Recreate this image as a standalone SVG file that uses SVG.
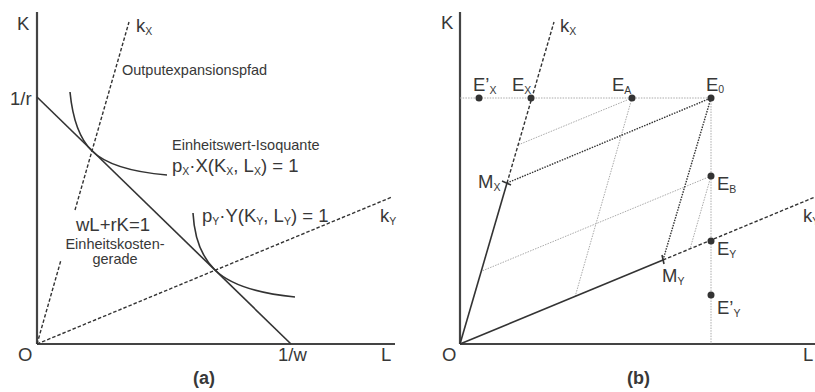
<svg xmlns="http://www.w3.org/2000/svg" width="815" height="392" viewBox="0 0 815 392">
<style>
text{font-family:"Liberation Sans",Arial,sans-serif;fill:#383838}
.lbl{font-size:18.5px}
.sm{font-size:14.5px}
.sub{font-size:10.5px}
.axis{stroke:#444;stroke-width:2.2;fill:none}
.solid{stroke:#333;stroke-width:1.6;fill:none}
.dash{stroke:#333;stroke-width:1.4;fill:none;stroke-dasharray:3.5 2}
.ddot{stroke:#333;stroke-width:1.4;fill:none;stroke-dasharray:1.5 1.2}
.gdot{stroke:#aaa;stroke-width:1;fill:none;stroke-dasharray:1.5 1.2}
.pt{fill:#333}
.cap{font-size:18px;font-weight:bold}
</style>
<rect width="815" height="392" fill="#fff"/>

<!-- Panel (a) -->
<g id="a-axes">
<line class="axis" x1="37" y1="12" x2="37" y2="344"/>
<line class="axis" x1="37" y1="344" x2="395" y2="344"/>
<text class="lbl" x="17" y="30">K</text>
<text class="lbl" x="18" y="361">O</text>
<text class="lbl" x="381" y="361">L</text>
<text class="lbl" x="10" y="105">1/r</text>
<text class="lbl" x="278" y="361">1/w</text>
<text class="cap" x="193" y="384">(a)</text>
</g>
<g id="a-connectors">
<line class="dash" x1="37" y1="344" x2="61" y2="260"/>
<line class="dash" x1="75" y1="210" x2="129" y2="22"/>
<line class="dash" x1="37" y1="344" x2="392" y2="197"/>
<line class="solid" x1="37" y1="97" x2="291" y2="344"/>
<path class="solid" d="M70,92 Q74,133.5 92,151 Q112,170.4 167,175"/>
<path class="solid" d="M193,213 Q195,250.6 215,270 Q237,291.4 295,297"/>
</g>
<g id="a-labels">
<text class="lbl" x="136" y="32">k<tspan class="sub" dy="3">X</tspan></text>
<text class="sm" x="122" y="75">Outputexpansionspfad</text>
<text class="sm" x="172" y="150">Einheitswert-Isoquante</text>
<text class="lbl" x="172" y="172">p<tspan class="sub" dy="3">X</tspan><tspan dy="-3">·X(K</tspan><tspan class="sub" dy="3">X</tspan><tspan dy="-3">, L</tspan><tspan class="sub" dy="3">X</tspan><tspan dy="-3">) = 1</tspan></text>
<text class="lbl" x="202" y="222">p<tspan class="sub" dy="3">Y</tspan><tspan dy="-3">·Y(K</tspan><tspan class="sub" dy="3">Y</tspan><tspan dy="-3">, L</tspan><tspan class="sub" dy="3">Y</tspan><tspan dy="-3">) = 1</tspan></text>
<text class="lbl" x="380" y="222">k<tspan class="sub" dy="3">Y</tspan></text>
<text class="lbl" x="76" y="231">wL+rK=1</text>
<text class="sm" x="115" y="249" text-anchor="middle">Einheitskosten-</text>
<text class="sm" x="115" y="264" text-anchor="middle">gerade</text>
</g>

<!-- Panel (b) -->
<g id="b-axes">
<line class="axis" x1="460" y1="12" x2="460" y2="344"/>
<line class="axis" x1="460" y1="344" x2="815" y2="344"/>
<text class="lbl" x="441" y="29">K</text>
<text class="lbl" x="442" y="361">O</text>
<text class="lbl" x="803" y="361">L</text>
<text class="cap" x="627" y="384">(b)</text>
</g>
<g id="b-connectors">
<line class="gdot" x1="460" y1="98" x2="711" y2="98"/>
<line class="gdot" x1="711" y1="98" x2="711" y2="344"/>
<line class="gdot" x1="632" y1="98" x2="518" y2="145"/>
<line class="gdot" x1="632" y1="98" x2="575" y2="297"/>
<line class="gdot" x1="711" y1="176" x2="482" y2="271"/>
<line class="gdot" x1="711" y1="176" x2="690" y2="249"/>
<line class="ddot" x1="507" y1="183" x2="711" y2="98"/>
<line class="ddot" x1="663" y1="260" x2="711" y2="98"/>
<line class="solid" x1="460" y1="344" x2="507" y2="183"/>
<line class="dash" x1="507" y1="183" x2="554" y2="22"/>
<line class="solid" x1="460" y1="344" x2="663" y2="260"/>
<line class="dash" x1="663" y1="260" x2="815" y2="197"/>
<line class="solid" x1="502" y1="181" x2="511" y2="185"/>
<line class="solid" x1="662" y1="255" x2="664" y2="264"/>
</g>
<g id="b-points">
<circle class="pt" cx="479" cy="98" r="3.5"/>
<circle class="pt" cx="531" cy="98" r="3.5"/>
<circle class="pt" cx="632" cy="98" r="3.5"/>
<circle class="pt" cx="711" cy="98" r="3.5"/>
<circle class="pt" cx="711" cy="176" r="3.5"/>
<circle class="pt" cx="711" cy="241" r="3.5"/>
<circle class="pt" cx="711" cy="295" r="3.5"/>
</g>
<g id="b-labels">
<text class="lbl" x="560" y="32">k<tspan class="sub" dy="3">X</tspan></text>
<text class="lbl" x="473" y="91">E’<tspan class="sub" dy="3">X</tspan></text>
<text class="lbl" x="512" y="91">E<tspan class="sub" dy="3">X</tspan></text>
<text class="lbl" x="612" y="91">E<tspan class="sub" dy="3">A</tspan></text>
<text class="lbl" x="706" y="91">E<tspan class="sub" dy="2">0</tspan></text>
<text class="lbl" x="478" y="188">M<tspan class="sub" dy="3">X</tspan></text>
<text class="lbl" x="717" y="190">E<tspan class="sub" dy="3">B</tspan></text>
<text class="lbl" x="717" y="255">E<tspan class="sub" dy="3">Y</tspan></text>
<text class="lbl" x="662" y="282">M<tspan class="sub" dy="3">Y</tspan></text>
<text class="lbl" x="717" y="314">E’<tspan class="sub" dy="3">Y</tspan></text>
<text class="lbl" x="803" y="222">k<tspan class="sub" dy="3">Y</tspan></text>
</g>
</svg>
